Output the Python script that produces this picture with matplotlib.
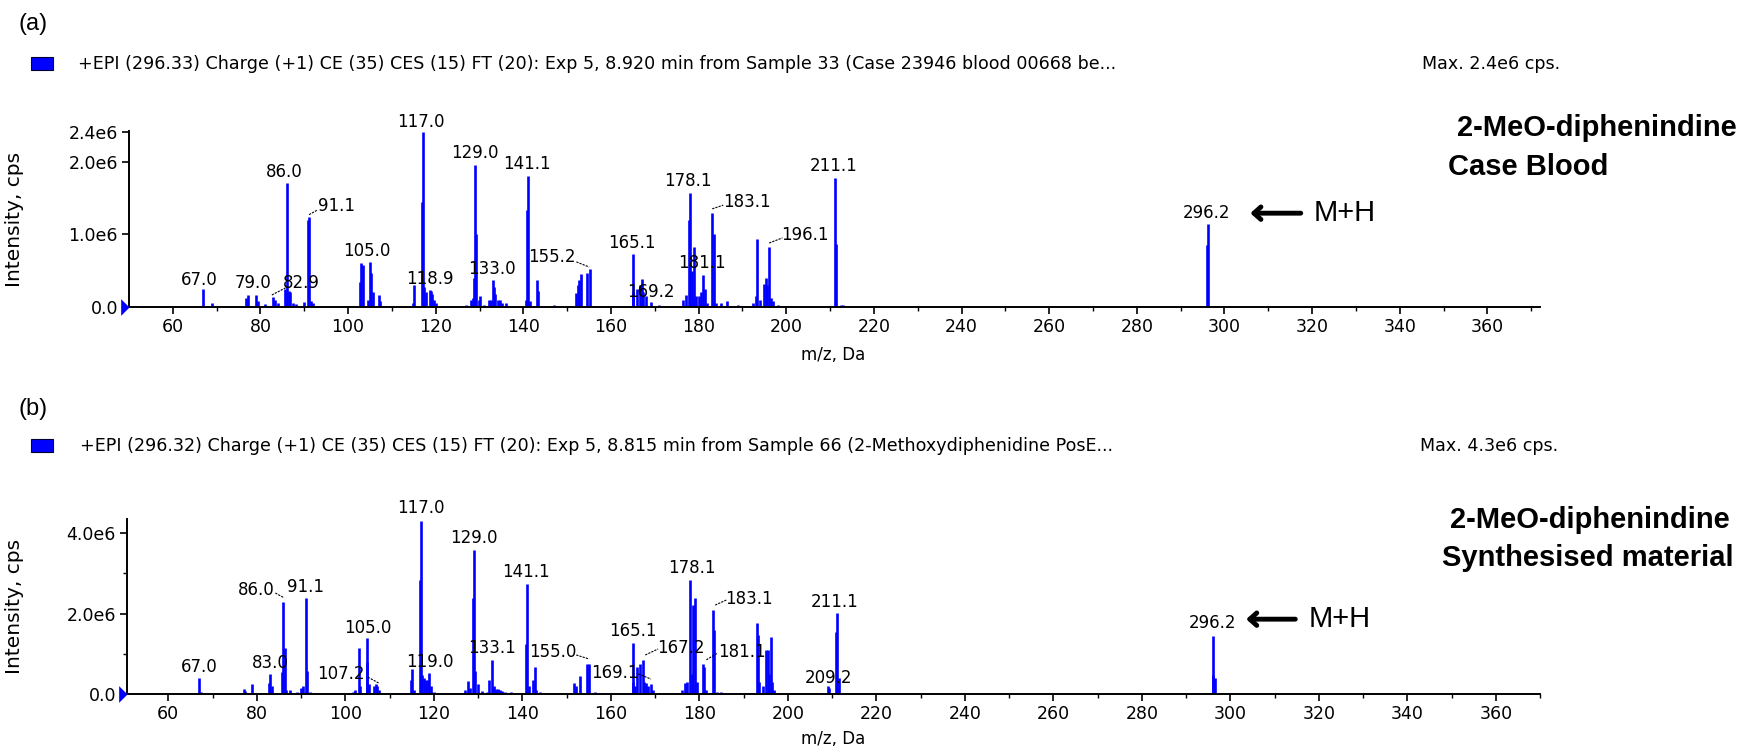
import matplotlib
matplotlib.use("Agg")
import matplotlib.pyplot as plt
from matplotlib.markers import MarkerStyle
from matplotlib.patches import Rectangle

W, H, DPI = 1749, 747, 100

# ---------------- data (intensities in units of 1e6 cps) ----------------
mz_a = [67.0, 69.0, 76.8, 77.1, 79.0, 79.4, 81.0, 82.9, 83.3, 84.1, 85.7, 86.0, 86.4, 86.8,
        87.5, 88.0, 90.0, 90.8, 91.1, 91.5, 92.0, 102.8, 103.0, 103.3, 104.6, 105.0, 105.3,
        105.6, 107.0, 107.3, 114.8, 115.0, 116.8, 117.0, 117.4, 117.8, 118.7, 118.9, 119.2,
        119.6, 120.0, 127.0, 128.0, 128.4, 128.7, 129.0, 129.3, 129.8, 130.2, 131.0, 132.2,
        132.6, 133.0, 133.3, 133.6, 134.2, 134.6, 135.2, 136.0, 140.5, 140.8, 141.1, 141.5,
        143.0, 143.4, 147.0, 152.0, 152.4, 152.8, 153.1, 154.6, 155.1, 165.0, 165.1, 166.0,
        166.5, 167.0, 167.4, 168.0, 169.2, 171.0, 176.5, 177.0, 177.8, 178.1, 178.5, 179.0,
        179.5, 180.0, 180.5, 181.1, 181.5, 182.0, 183.1, 183.4, 184.0, 185.0, 186.5, 189.0,
        192.5, 193.0, 193.3, 194.0, 194.9, 195.3, 195.7, 196.1, 196.5, 197.0, 198.0, 211.1,
        211.4, 212.5, 213.0, 296.0, 296.2]
int_a = [0.25, 0.05, 0.12, 0.17, 0.17, 0.08, 0.04, 0.14, 0.10, 0.06, 0.25, 1.70, 0.22, 0.20,
         0.05, 0.04, 0.07, 1.20, 1.24, 0.08, 0.06, 0.35, 0.60, 0.58, 0.10, 0.62, 0.47,
         0.20, 0.17, 0.08, 0.05, 0.30, 1.44, 2.40, 0.27, 0.20, 0.24, 0.22, 0.18,
         0.10, 0.05, 0.03, 0.10, 0.12, 0.40, 1.95, 1.01, 0.10, 0.15, 0.03, 0.10,
         0.10, 0.37, 0.28, 0.18, 0.10, 0.10, 0.06, 0.05, 0.10, 1.33, 1.80, 0.08,
         0.37, 0.22, 0.03, 0.19, 0.30, 0.37, 0.45, 0.47, 0.52, 0.20, 0.73, 0.25,
         0.30, 0.39, 0.20, 0.15, 0.07, 0.03, 0.10, 0.16, 1.19, 1.57, 0.50, 0.83,
         0.15, 0.15, 0.20, 0.44, 0.25, 0.05, 1.29, 1.00, 0.05, 0.05, 0.08, 0.03,
         0.05, 0.15, 0.94, 0.10, 0.32, 0.40, 0.30, 0.83, 0.12, 0.08, 0.03, 1.77,
         0.86, 0.03, 0.03, 0.85, 1.14]

mz_b = [67.0, 67.3, 77.0, 77.4, 79.0, 82.8, 83.0, 83.4, 85.7, 86.0, 86.3, 86.7, 87.5, 89.0,
        90.0, 90.5, 91.1, 91.4, 92.0, 101.8, 102.2, 103.0, 103.3, 104.8, 105.0, 105.4, 106.5,
        107.0, 107.2, 107.6, 114.8, 115.1, 115.5, 116.8, 117.0, 117.4, 117.8, 118.3, 118.6,
        119.0, 119.4, 120.0, 127.0, 127.8, 128.2, 128.8, 129.0, 129.4, 130.0, 131.0, 132.0,
        132.5, 133.1, 133.5, 134.0, 134.5, 135.0, 135.5, 136.0, 137.5, 140.8, 141.1, 141.5,
        142.4, 142.8, 143.2, 144.0, 151.8, 152.2, 153.0, 154.6, 155.0, 156.5, 165.0, 165.1,
        165.5, 166.0, 166.5, 167.2, 167.6, 168.0, 168.4, 169.1, 169.5, 176.0, 176.8, 177.3,
        177.9, 178.3, 178.6, 179.0, 179.4, 180.8, 181.1, 181.5, 183.1, 183.4, 184.0, 185.0,
        193.0, 193.3, 193.6, 194.5, 195.0, 195.5, 195.8, 196.1, 196.5, 197.0, 209.0, 209.4,
        210.8, 211.1, 211.5, 296.0, 296.2, 296.5]
int_b = [0.39, 0.05, 0.12, 0.08, 0.24, 0.28, 0.49, 0.20, 0.55, 2.29, 1.14, 0.10, 0.10, 0.05,
         0.15, 0.20, 2.38, 0.58, 0.06, 0.05, 0.10, 1.14, 0.20, 0.80, 1.38, 0.25, 0.20,
         0.24, 0.20, 0.10, 0.35, 0.61, 0.10, 2.83, 4.30, 0.47, 0.40, 0.35, 0.35,
         0.52, 0.20, 0.05, 0.10, 0.33, 0.15, 2.38, 3.58, 0.56, 0.24, 0.08, 0.05,
         0.35, 0.85, 0.20, 0.12, 0.12, 0.10, 0.08, 0.05, 0.05, 1.25, 2.74, 0.20,
         0.35, 0.67, 0.10, 0.04, 0.27, 0.20, 0.44, 0.74, 0.74, 0.05, 0.31, 1.27,
         0.20, 0.67, 0.74, 0.85, 0.30, 0.27, 0.20, 0.24, 0.10, 0.10, 0.27, 0.30,
         2.83, 0.50, 2.20, 2.38, 0.30, 0.74, 0.67, 0.10, 2.10, 1.60, 0.05, 0.04,
         1.77, 1.47, 0.30, 0.20, 1.10, 1.10, 0.50, 1.41, 0.30, 0.10, 0.20, 0.15,
         1.53, 2.02, 0.39, 0.47, 1.44, 0.40]

# peak labels: text and centre position (m/z, intensity) of the text
labels_a = ["67.0", "79.0", "82.9", "86.0", "91.1", "105.0", "117.0", "118.9", "129.0", "133.0",
            "141.1", "155.2", "165.1", "169.2", "178.1", "181.1", "183.1", "196.1", "211.1", "296.2"]
label_pos_a = [(66.0, 0.37), (78.3, 0.33), (89.3, 0.33), (85.4, 1.86), (97.3, 1.39), (104.3, 0.77),
               (116.7, 2.54), (118.7, 0.385), (129.0, 2.12), (132.9, 0.52), (140.9, 1.97),
               (146.6, 0.69), (164.8, 0.88), (169.0, 0.21), (177.6, 1.73), (180.8, 0.61),
               (191.1, 1.44), (204.3, 0.99), (210.7, 1.94), (295.9, 1.29)]
leaders_a = [((82.6, 0.165), (86.1, 0.275)), ((91.1, 1.27), (92.9, 1.33)),
             ((152.1, 0.62), (155.0, 0.55)), ((183.1, 1.35), (185.6, 1.40)),
             ((196.1, 0.88), (199.1, 0.95))]

labels_b = ["67.0", "83.0", "86.0", "91.1", "105.0", "107.2", "117.0", "119.0", "129.0", "133.1",
            "141.1", "155.0", "165.1", "169.1", "167.2", "178.1", "181.1", "183.1", "211.1",
            "209.2", "296.2"]
label_pos_b = [(66.9, 0.67), (83.1, 0.77), (79.8, 2.58), (91.1, 2.66), (105.1, 1.64), (99.1, 0.50),
               (117.1, 4.62), (119.1, 0.80), (129.1, 3.88), (133.1, 1.14), (140.9, 3.03),
               (146.9, 1.04), (165.1, 1.57), (160.9, 0.52), (175.8, 1.14), (178.4, 3.13),
               (189.6, 1.04), (191.3, 2.36), (210.7, 2.29), (209.1, 0.40), (296.0, 1.76)]
leaders_b = [((84.2, 2.51), (86.2, 2.39)), ((105.1, 0.42), (107.6, 0.27)),
             ((152.2, 0.97), (155.1, 0.87)), ((166.2, 0.50), (169.1, 0.37)),
             ((167.8, 0.97), (170.7, 1.12)), ((181.6, 0.85), (184.2, 1.02)),
             ((183.6, 2.21), (186.2, 2.34))]

yticks_a = [0.0, 1.0, 2.0, 2.4]
yticklabels_a = ["0.0", "1.0e6", "2.0e6", "2.4e6"]
yticks_b = [0.0, 2.0, 4.0]
yticklabels_b = ["0.0", "2.0e6", "4.0e6"]
xticks = list(range(60, 361, 20))
xminor = list(range(70, 371, 20))

header_a = ("+EPI (296.33) Charge (+1) CE (35) CES (15) FT (20): Exp 5, 8.920 min from "
            "Sample 33 (Case 23946 blood 00668 be...")
header_b = ("+EPI (296.32) Charge (+1) CE (35) CES (15) FT (20): Exp 5, 8.815 min from "
            "Sample 66 (2-Methoxydiphenidine PosE...")
maxtxt_a = "Max. 2.4e6 cps."
maxtxt_b = "Max. 4.3e6 cps."
title_a = ["2-MeO-diphenindine", "Case Blood"]
title_b = ["2-MeO-diphenindine", "Synthesised material"]

BLUE = "#0000ff"
SOFT = "DejaVu Sans"
ARIAL = "Liberation Sans"


def fx(x):
    return x / W


def fy(y):
    return 1 - y / H


fig = plt.figure(figsize=(W / DPI, H / DPI), dpi=DPI)
fig.patch.set_facecolor("white")

ax_a = fig.add_axes([fx(129), fy(307), (1540 - 129) / W, (307 - 131) / H])
ax_b = fig.add_axes([fx(127), fy(694), (1540 - 127) / W, (694 - 519) / H])

tri = MarkerStyle([(-1, -1), (0, 0), (-1, 1)])


def draw(ax, mz, inten, xlim, ylim, yt, ytl, yminor, labels, lpos, leaders):
    ax.set_xlim(*xlim)
    ax.set_ylim(*ylim)
    for s in ("top", "right"):
        ax.spines[s].set_visible(False)
    for s in ("left", "bottom"):
        ax.spines[s].set_linewidth(1.4)
    ax.vlines(mz, 0, inten, color=BLUE, lw=1.9, zorder=2)
    ax.set_xticks(xticks)
    ax.set_xticks(xminor, minor=True)
    ax.set_yticks(yt)
    ax.set_yticklabels(ytl)
    ax.set_yticks(yminor, minor=True)
    ax.tick_params(axis="both", which="major", direction="out", length=5, width=1.2,
                   labelsize=12.5, pad=3)
    ax.tick_params(axis="both", which="minor", direction="out", length=3, width=1)
    for lab in ax.get_xticklabels() + ax.get_yticklabels():
        lab.set_fontfamily(SOFT)
    ax.plot([xlim[0]], [0], marker=tri, ms=12, color=BLUE, mew=0, clip_on=False, zorder=5)
    for t, (x, y) in zip(labels, lpos):
        ax.text(x, y, t, ha="center", va="center", fontsize=12, family=SOFT, zorder=4)
    for (p0, p1) in leaders:
        ax.plot([p0[0], p1[0]], [p0[1], p1[1]], color="black", lw=0.8, ls=(0, (2, 1)), zorder=4)
    ax.set_ylabel("Intensity, cps", fontsize=14.5, family=SOFT)


draw(ax_a, mz_a, int_a, (50, 372), (0, 2.42), yticks_a, yticklabels_a, [],
     labels_a, label_pos_a, leaders_a)
draw(ax_b, mz_b, int_b, (50.67, 364.7), (0, 4.35), yticks_b, yticklabels_b, [1.0, 3.0],
     labels_b, label_pos_b, leaders_b)
ax_a.yaxis.set_label_coords((24 - 129) / (1540 - 129), 0.5)
ax_b.yaxis.set_label_coords((24 - 127) / (1540 - 127), 0.5)

# M+H arrows
ax_a.annotate("", xy=(305.9, 1.29), xytext=(317.4, 1.29),
              arrowprops=dict(arrowstyle="->,head_length=0.5,head_width=0.45", lw=3.5,
                              color="black", shrinkA=0, shrinkB=0))
ax_a.text(320.3, 1.29, "M+H", ha="left", va="center", fontsize=21, family=ARIAL)
ax_b.annotate("", xy=(303.6, 1.86), xytext=(314.7, 1.86),
              arrowprops=dict(arrowstyle="->,head_length=0.5,head_width=0.45", lw=3.5,
                              color="black", shrinkA=0, shrinkB=0))
ax_b.text(317.6, 1.86, "M+H", ha="left", va="center", fontsize=21, family=ARIAL)

# x labels
fig.text(fx(833), fy(355), "m/z, Da", ha="center", va="center", fontsize=12, family=SOFT)
fig.text(fx(833), fy(739), "m/z, Da", ha="center", va="center", fontsize=12, family=SOFT)

# panel letters
fig.text(fx(18), fy(24), "(a)", ha="left", va="center", fontsize=17, family=ARIAL)
fig.text(fx(19), fy(409), "(b)", ha="left", va="center", fontsize=17, family=ARIAL)

# legend squares
for ytop in (57, 439):
    fig.patches.append(Rectangle((fx(31), fy(ytop + 13)), 22 / W, 13 / H, transform=fig.transFigure,
                                 facecolor=BLUE, edgecolor="#000033", lw=0.8))

# header lines
fig.text(fx(78), fy(64), header_a, ha="left", va="center", fontsize=12.6, family=SOFT)
fig.text(fx(80), fy(446), header_b, ha="left", va="center", fontsize=12.6, family=SOFT)
fig.text(fx(1560), fy(64), maxtxt_a, ha="right", va="center", fontsize=12.6, family=SOFT)
fig.text(fx(1558), fy(446), maxtxt_b, ha="right", va="center", fontsize=12.6, family=SOFT)

# bold sample titles
fig.text(fx(1457), fy(128), title_a[0], ha="left", va="center", fontsize=21,
         family=ARIAL, weight="bold")
fig.text(fx(1448), fy(167), title_a[1], ha="left", va="center", fontsize=21,
         family=ARIAL, weight="bold")
fig.text(fx(1450), fy(520), title_b[0], ha="left", va="center", fontsize=21,
         family=ARIAL, weight="bold")
fig.text(fx(1442), fy(558), title_b[1], ha="left", va="center", fontsize=21,
         family=ARIAL, weight="bold")

fig.savefig("out.png", dpi=DPI, facecolor="white")
